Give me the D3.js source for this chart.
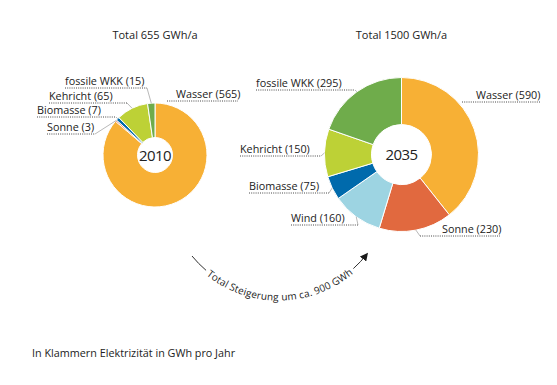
<!DOCTYPE html>
<html>
<head>
<meta charset="utf-8">
<script src="https://cdn.jsdelivr.net/npm/d3@7"></script>
<style>
  body { margin: 0; background: #fff; }
  svg { display: block; font-family: "Open Sans", "Noto Sans", sans-serif; }
</style>
</head>
<body>
<svg width="557" height="385"></svg>
<script>
// data
const years = ["2010", "2035"];
const totals = [655, 1500];
const categories = ["Wasser", "Sonne", "Wind", "Biomasse", "Kehricht", "fossile WKK"];
const values2010 = [565, 3, 0, 7, 65, 15];
const values2035 = [590, 230, 160, 75, 150, 295];
const increase = 900;

const colors = {
  "Wasser": "#F7B035",
  "Sonne": "#E1693F",
  "Wind": "#9DD4E2",
  "Biomasse": "#006AAC",
  "Kehricht": "#BDD136",
  "fossile WKK": "#6FAC4B"
};

// layout of the two donuts
const charts = [
  { cx: 155, cy: 155, r: 52, r0: 17.5, values: values2010,
    labels: {
      "Wasser":      { x: 176, y: 98,  u: [167, 238], leader: false },
      "Sonne":       { x: 47,  y: 131, u: [47, 95] },
      "Biomasse":    { x: 37,  y: 114, u: [37, 116] },
      "Kehricht":    { x: 49,  y: 100, u: [49, 127] },
      "fossile WKK": { x: 65,  y: 85,  u: [65, 147] }
    } },
  { cx: 401.5, cy: 154.5, r: 77, r0: 30, values: values2035,
    labels: {
      "Wasser":      { x: 476, y: 99,  u: [462, 540], leader: false },
      "Sonne":       { x: 442, y: 233, u: [420, 500], left: true },
      "Wind":        { x: 291, y: 222, u: [291, 358] },
      "Biomasse":    { x: 249, y: 190, u: [249, 329] },
      "Kehricht":    { x: 240, y: 153, u: [240, 321] },
      "fossile WKK": { x: 256, y: 87,  u: [256, 355] }
    } }
];

var svg = d3.select("svg");
var textColor = "#222";

var pie = d3.pie().sort(null).value(d => d.value);

charts.forEach(function (c, ci) {
  var data = categories.map((k, i) => ({ key: k, value: c.values[i] }));
  var arcs = pie(data).filter(d => d.data.value > 0);

  // title
  svg.append("text")
    .attr("x", c.cx)
    .attr("y", 39)
    .attr("text-anchor", "middle")
    .attr("fill", textColor)
    .style("font-size", "11px")
    .text("Total " + totals[ci] + " GWh/a");

  var g = svg.append("g").attr("transform", "translate(" + c.cx + "," + c.cy + ")");

  var arc = d3.arc().innerRadius(c.r0).outerRadius(c.r);
  var outer = d3.arc().innerRadius(c.r).outerRadius(c.r);

  g.selectAll("path")
    .data(arcs)
    .enter()
    .append("path")
    .attr("d", arc)
    .attr("fill", d => colors[d.data.key])
    .attr("stroke", "#fff")
    .attr("stroke-width", 1);

  g.append("text")
    .attr("y", 5.5)
    .attr("text-anchor", "middle")
    .attr("fill", textColor)
    .style("font-size", "15px")
    .style("letter-spacing", "-0.6px")
    .text(years[ci]);

  // labels with dotted underline and leader line
  arcs.forEach(function (d) {
    var L = c.labels[d.data.key];
    if (!L) return;
    svg.append("text")
      .attr("x", L.x)
      .attr("y", L.y)
      .attr("fill", textColor)
      .style("font-size", "10.8px")
      .text(d.data.key + " (" + d.data.value + ")");

    var uy = L.y + 3;
    svg.append("line")
      .attr("x1", L.u[0]).attr("x2", L.u[1])
      .attr("y1", uy).attr("y2", uy)
      .attr("stroke", "#333")
      .attr("stroke-width", 0.9)
      .attr("stroke-dasharray", "1,1.2");

    if (L.leader === false) return;
    var p = outer.centroid(d);
    var ex = L.left ? L.u[0] : L.u[1];
    svg.append("line")
      .attr("x1", ex).attr("y1", uy)
      .attr("x2", c.cx + p[0]).attr("y2", c.cy + p[1])
      .attr("stroke", "#9a9a9a")
      .attr("stroke-width", 0.7);
  });
});

// curved arrow between the two donuts
svg.append("defs").append("marker")
  .attr("id", "head")
  .attr("viewBox", "0 0 10 10")
  .attr("refX", 8).attr("refY", 5)
  .attr("markerWidth", 8).attr("markerHeight", 8)
  .attr("markerUnits", "userSpaceOnUse")
  .attr("orient", "auto")
  .append("path")
  .attr("d", "M0,0 L10,5 L0,10 Z")
  .attr("fill", "#1a1a1a");

var curve = svg.append("path")
  .attr("id", "curve")
  .attr("d", "M192,256 A112,112 0 0,0 367,254")
  .attr("fill", "none")
  .attr("stroke", "#1a1a1a")
  .attr("stroke-width", 0.9)
  .attr("marker-end", "url(#head)");

var curveText = svg.append("text")
  .attr("fill", textColor)
  .style("font-size", "10px")
  .attr("dy", "0.35em");
curveText.append("textPath")
  .attr("href", "#curve")
  .attr("startOffset", "50%")
  .attr("text-anchor", "middle")
  .text("Total Steigerung um ca. " + increase + " GWh");

// break the line where the text sits
var total = curve.node().getTotalLength();
var tl = curveText.node().getComputedTextLength() + 6;
var a = (total - tl) / 2;
curve.attr("stroke-dasharray", a + "," + tl + "," + total);

// footnote
svg.append("text")
  .attr("x", 32)
  .attr("y", 357)
  .attr("fill", textColor)
  .style("font-size", "10.8px")
  .text("In Klammern Elektrizität in GWh pro Jahr");
</script>
</body>
</html>
